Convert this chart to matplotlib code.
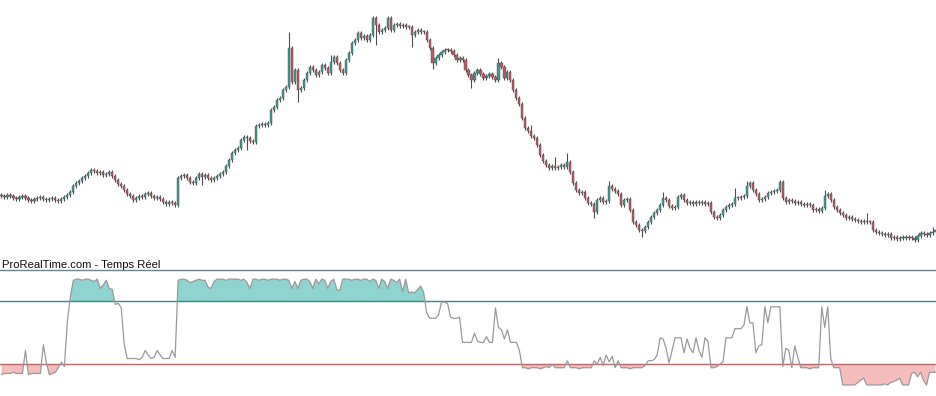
import matplotlib
matplotlib.use("Agg")
import matplotlib.pyplot as plt
import numpy as np

# ---- data (price units arbitrary) ----
closes = [
    54,53,55,54,52,51,53,54,52,50,
    49,51,52,53,51,50,51,52,50,49,51,53,
    55,58,64,67,69,72,74,77,80,
    79,77,78,75,76,78,
    74,70,66,64,60,
    56,54,50,52,54,53,56,57,54,52,53,
    51,48,46,48,47,45,
    72,
    74,75,72,68,67,72,76,73,75,72,70,72,74,76,78,84,90,
    97,100,102,
    110,113,112,109,108,
    124,125,126,125,127,
    140,143,150,152,160,163,
    202,168,
    180,160,162,170,177,183,180,175,178,185,182,177,188,193,187,180,177,190,197,207,210,217,212,214,210,215,
    232,225,218,220,222,232,220,225,226,224,225,223,223,215,218,220,218,218,
    210,202,187,192,195,198,200,200,199,195,190,192,190,180,175,170,177,180,176,172,174,176,173,170,
    187,183,172,178,170,160,152,146,132,122,119,114,112,105,95,89,85,82,84,82,83,85,83,88,
    78,67,60,57,58,52,47,46,38,50,52,48,49,64,61,59,56,45,50,51,40,28,25,20,19,
    23,28,33,37,40,45,52,50,44,42,43,53,55,50,47,48,46,48,47,48,46,47,38,33,32,35,40,43,45,46,
    52,52,53,54,64,67,60,56,50,51,53,57,58,59,60,68,52,48,50,49,47,48,46,45,46,45,40,41,39,42,
    54,56,50,43,40,37,35,32,33,31,30,29,28,29,28,28,20,18,17,16,15,16,12,13,11,12,13,12,13,12,10,14,17,16,15,17,18,20,
]
first_open = 55

# notable wicks (candle index -> price)
wick_high_idx = [96, 110, 166, 177, 185, 189, 203, 221, 245, 249, 260, 275, 289, 311]
wick_high_val = [218, 195, 192, 125, 93, 97, 69, 58, 62, 69, 70, 60, 37, 23]
wick_low_idx = [67, 82, 99, 125, 137, 144, 157, 198, 214]
wick_low_val = [65, 100, 148, 205, 203, 181, 162, 32, 13]

# oscillator below the price panel
indicator = [
    9,10,10,10,11,10,10,10,30,9,
    10,10,10,10,35,19,9,10,11,15,20,16,
    55,77,91,
    92,92,91,92,92,91,90,92,
    84,87,91,84,83,70,71,67,35,
    23,23,23,23,22,24,30,26,23,24,30,26,23,23,23,30,24,
    91,
    92,92,91,89,90,91,92,91,91,85,
    84,90,92,
    92,92,91,92,92,92,92,91,92,89,84,92,
    92,91,92,92,91,92,92,92,91,92,92,91,
    84,90,84,91,92,92,90,84,92,88,92,91,84,90,92,83,82,92,
    92,92,91,92,92,91,92,92,90,92,91,
    84,92,90,84,92,91,89,92,81,92,80,81,80,83,86,81,
    63,58,58,58,61,72,72,71,59,58,58,59,
    37,37,37,37,45,38,37,37,42,37,37,67,50,48,40,48,37,37,37,30,15,
    15,14,15,15,15,14,15,16,15,18,15,15,15,15,21,
    15,15,15,14,15,15,15,15,
    21,18,24,17,26,20,25,15,21,15,
    15,15,14,15,15,15,15,
    17,21,21,22,26,41,40,32,19,30,41,41,41,28,40,32,28,41,30,24,41,38,
    15,15,16,18,20,41,41,41,49,49,49,52,68,54,54,28,34,35,68,54,68,68,68,68,
    16,32,30,15,34,24,15,15,15,14,15,15,15,68,50,68,23,15,15,15,
    0,0,0,0,0,2,4,6,0,0,0,0,0,0,1,0,2,3,4,6,0,0,0,10,11,7,11,4,0,11,11,11,
]
level_top = 100
level_high = 73
level_low = 18

# ---- figure ----
W, H, DPI = 937, 396, 100
fig = plt.figure(figsize=(W / DPI, H / DPI), dpi=DPI)
fig.patch.set_facecolor("white")

n = len(closes)
x = np.arange(n)
c = np.array(closes, dtype=float)
o = np.concatenate([[first_open], c[:-1]])
hi = np.maximum(o, c) + 2.0
lo = np.minimum(o, c) - 2.0
for i, v in zip(wick_high_idx, wick_high_val):
    hi[i] = max(hi[i], v)
for i, v in zip(wick_low_idx, wick_low_val):
    lo[i] = min(lo[i], v)

GREEN = "#3f9a92"
RED = "#bd5660"
EDGE = "#4d4d4d"

ax = fig.add_axes([0, 141 / H, 1, 255 / H])
ax.set_xlim(-0.5, n - 0.5)
ax.set_ylim(-5, 250)
ax.vlines(x, lo, hi, color=EDGE, linewidth=0.8, zorder=1)
up = c >= o
body_bottom = np.minimum(o, c)
body_h = np.maximum(np.abs(c - o), 1.4)
ax.bar(x[up], body_h[up], bottom=body_bottom[up], width=0.72,
       color=GREEN, edgecolor=EDGE, linewidth=0.3, zorder=2)
ax.bar(x[~up], body_h[~up], bottom=body_bottom[~up], width=0.72,
       color=RED, edgecolor=EDGE, linewidth=0.3, zorder=2)
ax.axis("off")

ax2 = fig.add_axes([0, 0, 1, 138 / H])
ax2.set_xlim(-0.5, n - 0.5)
ax2.set_ylim(-9.6, 110.4)
ind = np.array(indicator, dtype=float)
ax2.fill_between(x, ind, level_high, where=ind >= level_high, interpolate=True,
                 color="#8fd4d1", linewidth=0, zorder=1)
ax2.fill_between(x, ind, level_low, where=ind <= level_low, interpolate=True,
                 color="#f5bcbc", linewidth=0, zorder=1)
ax2.axhline(level_top, color="#6f8189", linewidth=1.0, zorder=2)
ax2.axhline(level_high, color="#2a8d8a", linewidth=1.0, zorder=2)
ax2.axhline(level_low, color="#b86a6a", linewidth=1.0, zorder=2)
ax2.plot(x, ind, color="#9a9a9a", linewidth=0.9, zorder=3)
ax2.axis("off")

fig.text(2 / W, 1 - 268.5 / H, "ProRealTime.com - Temps Réel",
         fontsize=8.1, family=["Liberation Sans", "DejaVu Sans"],
         color="#111111", ha="left", va="baseline")

fig.savefig("out.png", dpi=DPI, facecolor="white")
